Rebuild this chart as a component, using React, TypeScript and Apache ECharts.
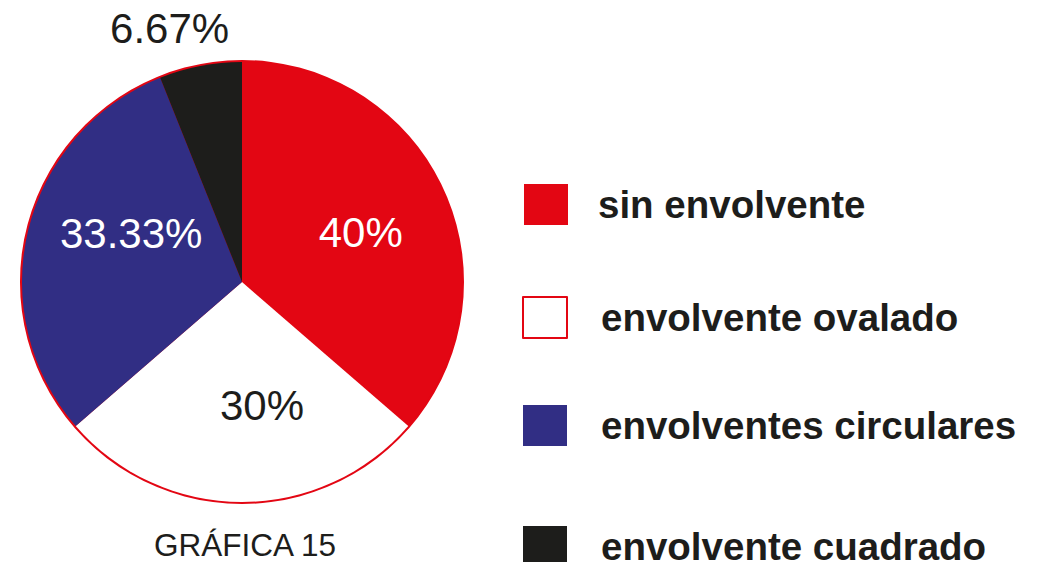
import React, { useEffect, useRef } from "react";
import * as echarts from "echarts";

const categories = ["sin envolvente", "envolvente ovalado", "envolventes circulares", "envolvente cuadrado"];
const values = [40, 30, 33.33, 6.67];
const valueLabels = ["40%", "30%", "33.33%", "6.67%"];
const colors = ["#E30613", "#FFFFFF", "#312E84", "#1D1D1B"];
const labelColors = ["#FFFFFF", "#1D1D1B", "#FFFFFF", "#1D1D1B"];
const labelOffsets = [[16, -3], [20, 10], [-1, -22], [-51, -143]];
const legendPos = [
  { left: 524, top: 184 },
  { left: 522, top: 296 },
  { left: 523, top: 405 },
  { left: 523, top: 526 },
];
const titleText = "GRÁFICA 15";

export default function App() {
  const ref = useRef<HTMLDivElement>(null);
  useEffect(() => {
    if (!ref.current) return;
    const chart = echarts.init(ref.current, null, { renderer: "svg" });
    const font = "'Liberation Sans', Arial, sans-serif";
    const legends = categories.map((name, i) => ({
      show: true,
      orient: "vertical" as const,
      left: legendPos[i].left,
      top: legendPos[i].top,
      padding: 0,
      icon: "rect",
      itemWidth: 44,
      itemHeight: 41,
      selectedMode: false,
      data: [
        {
          name,
          itemStyle:
            i === 1
              ? { color: "#FFFFFF", borderColor: "#E30613", borderWidth: 2 }
              : { color: colors[i], borderWidth: 0 },
        },
      ],
      textStyle: {
        fontFamily: font,
        fontSize: 38.5,
        fontWeight: "bold" as const,
        lineHeight: 30,
        color: "#1D1D1B",
        padding: [0, 0, 0, i === 0 ? 25 : 29],
      },
    }));
    chart.setOption({
      animation: false,
      backgroundColor: "#FFFFFF",
      title: {
        text: titleText,
        left: 154,
        top: 529,
        padding: 0,
        textStyle: { fontFamily: font, fontSize: 31.5, fontWeight: "normal", color: "#1D1D1B" },
      },
      legend: legends,
      series: [
        {
          type: "pie",
          name: "outline",
          silent: true,
          center: [242, 282],
          radius: 222,
          label: { show: false },
          labelLine: { show: false },
          itemStyle: { color: "#E30613", borderWidth: 0 },
          data: [{ value: 1, name: "_outline" }],
        },
        {
          type: "pie",
          center: [242, 282],
          radius: 220,
          startAngle: 90,
          clockwise: true,
          silent: true,
          labelLine: { show: false },
          label: {
            show: true,
            position: "inside",
            fontFamily: font,
            fontSize: 42,
            fontWeight: "normal",
          },
          labelLayout: (params: any) => ({
            dx: labelOffsets[params.dataIndex][0],
            dy: labelOffsets[params.dataIndex][1],
          }),
          itemStyle: { borderWidth: 0 },
          data: categories.map((name, i) => ({
            name,
            value: values[i],
            itemStyle: { color: colors[i] },
            label: { formatter: valueLabels[i], color: labelColors[i] },
          })),
        },
      ],
    });
    return () => chart.dispose();
  }, []);
  return (
    <div
      ref={ref}
      style={{ position: "fixed", left: 0, top: 0, width: 1037, height: 562, background: "#fff" }}
    />
  );
}
